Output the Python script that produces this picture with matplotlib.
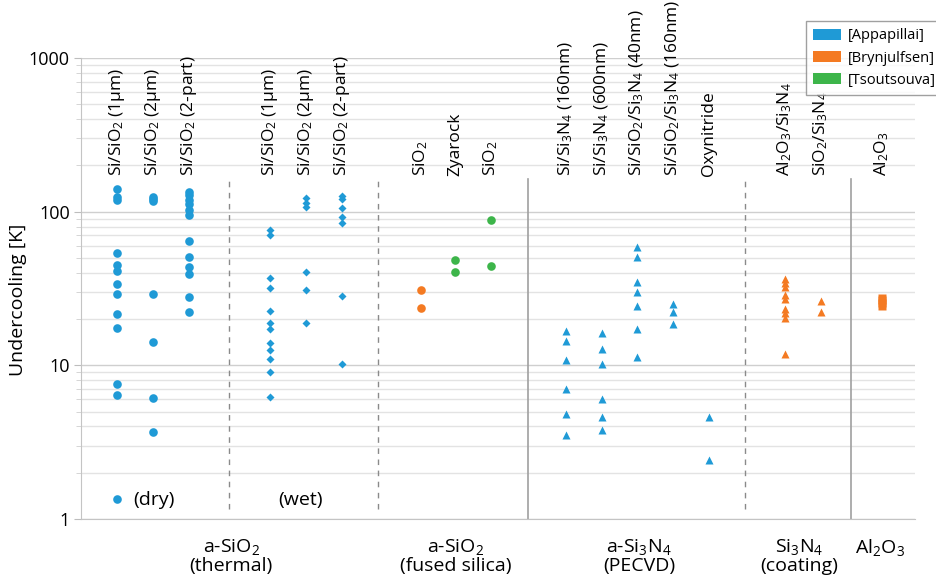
import matplotlib
matplotlib.use('Agg')
import matplotlib.pyplot as plt
import matplotlib.transforms as mtransforms
from matplotlib.patches import Patch

plt.rcParams['font.family'] = ['Open Sans', 'DejaVu Sans']
plt.rcParams['mathtext.default'] = 'regular'

# ---------------- data ----------------
col_labels = [
    "Si/SiO$_2$ (1µm)", "Si/SiO$_2$ (2µm)", "Si/SiO$_2$ (2-part)",
    "Si/SiO$_2$ (1µm)", "Si/SiO$_2$ (2µm)", "Si/SiO$_2$ (2-part)",
    "SiO$_2$", "Zyarock", "SiO$_2$",
    "Si/Si$_3$N$_4$ (160nm)", "Si/Si$_3$N$_4$ (600nm)",
    "Si/SiO$_2$/Si$_3$N$_4$ (40nm)", "Si/SiO$_2$/Si$_3$N$_4$ (160nm)", "Oxynitride",
    "Al$_2$O$_3$/Si$_3$N$_4$", "SiO$_2$/Si$_3$N$_4$",
    "Al$_2$O$_3$",
]
col_source = ["Appapillai"] * 6 + ["Brynjulfsen", "Tsoutsouva", "Tsoutsouva"] + \
             ["Appapillai"] * 5 + ["Brynjulfsen"] * 3

dry_1um = [141, 125, 119, 54, 45, 41, 34, 29, 21.5, 17.6, 7.6, 6.4, 1.34]
dry_2um = [125, 121, 118, 29, 14.1, 6.1, 3.7]
dry_2part = [134, 128, 119, 113, 103, 95, 64, 51, 43.5, 39.4, 27.8, 22.2]
wet_1um = [76, 71, 37, 32, 22.7, 18.8, 17.3, 13.9, 12.5, 11.0, 9.0, 6.2]
wet_2um = [122, 114, 107, 40.4, 30.7, 18.9]
wet_2part = [126, 120, 106, 92, 84.5, 28.2, 10.2]
fused_sio2_b = [30.7, 23.7]
fused_zyarock = [48.7, 40.6]
fused_sio2_t = [88, 44.3]
pecvd_160 = [16.7, 14.5, 10.8, 7.0, 4.8, 3.5]
pecvd_600 = [16.3, 12.7, 10.2, 6.0, 4.6, 3.8]
pecvd_40_stack = [59, 51, 34.6, 30.1, 24.4, 17.3, 11.4]
pecvd_160_stack = [24.9, 22.1, 18.7]
oxynitride = [4.6, 2.43]
coat_al2o3 = [36.6, 34.3, 32.3, 28.9, 27.1, 23.3, 22.0, 20.3, 11.9]
coat_sio2 = [26.4, 22.4]
al2o3 = [27.5, 26.5, 25.5, 24.5]

col_values = [dry_1um, dry_2um, dry_2part, wet_1um, wet_2um, wet_2part,
              fused_sio2_b, fused_zyarock, fused_sio2_t,
              pecvd_160, pecvd_600, pecvd_40_stack, pecvd_160_stack, oxynitride,
              coat_al2o3, coat_sio2, al2o3]

group_labels = ["a-SiO$_2$\n(thermal)", "a-SiO$_2$\n(fused silica)",
                "a-Si$_3$N$_4$\n(PECVD)", "Si$_3$N$_4$\n(coating)", "Al$_2$O$_3$"]
legend_names = ["[Appapillai]", "[Brynjulfsen]", "[Tsoutsouva]"]
y_ticks = [1, 10, 100, 1000]

# ---------------- layout / style ----------------
col_x = [0, 1, 2, 4.25, 5.25, 6.25, 8.44, 9.39, 10.39,
         12.47, 13.47, 14.44, 15.44, 16.44, 18.56, 19.56, 21.25]
col_marker = ['o'] * 3 + ['D'] * 3 + ['o'] * 3 + ['^'] * 5 + ['^'] * 2 + ['s']
col_msize = [6.2] * 3 + [4.2] * 3 + [6.2] * 3 + [6.2] * 5 + [6.2] * 2 + [5.6]
colors = {"Appapillai": "#1f9ad6", "Brynjulfsen": "#f47a22", "Tsoutsouva": "#3db54a"}
dashed_x = [3.11, 7.25, 17.44]
solid_x = [11.42, 20.39]
group_x = [3.17, 9.4, 14.5, 18.95, 21.2]

W, H = 936, 581
fig = plt.figure(figsize=(W / 100, H / 100), dpi=100)
ax = fig.add_axes([81 / W, 1 - 519 / H, (915 - 81) / W, (519 - 58) / H])
ax.set_yscale('log')
ax.set_ylim(1, 1000)
ax.set_xlim(-1.0, 22.17)

# grid
ax.yaxis.grid(True, which='major', color='#cfcfcf', lw=1.0)
ax.yaxis.grid(True, which='minor', color='#e3e3e3', lw=1.0)
ax.set_axisbelow(True)
ax.set_xticks([])
ax.set_yticks(y_ticks)
ax.set_yticklabels([str(t) for t in y_ticks])
ax.tick_params(axis='y', which='major', length=5, color='#bdbdbd', labelsize=13, pad=3)
ax.tick_params(axis='y', which='minor', length=3.5, color='#cfcfcf')
for s in ['top', 'right']:
    ax.spines[s].set_visible(False)
ax.spines['left'].set_color('#c4c4c4')
ax.spines['bottom'].set_color('#c4c4c4')
ax.set_ylabel("Undercooling [K]", fontsize=14)
ax.yaxis.set_label_coords(-54 / (915 - 81), 0.475)

# separators
for xv in dashed_x:
    ax.axvline(xv, ymin=0.022, ymax=0.738, color='#8a8a8a', lw=1.0, ls=(0, (4, 4)))
for xv in solid_x:
    ax.axvline(xv, ymin=0.0, ymax=0.738, color='#a0a0a0', lw=1.2)

# points
for x, vals, src, mk, ms in zip(col_x, col_values, col_source, col_marker, col_msize):
    ax.plot([x] * len(vals), vals, ls='none', marker=mk, ms=ms,
            color=colors[src], mec='none', clip_on=False, zorder=3)

# column labels (rotated)
trans = mtransforms.blended_transform_factory(ax.transData, ax.transAxes)
for x, lab in zip(col_x, col_labels):
    ax.text(x, 0.745, lab, rotation=90, ha='center', va='bottom', fontsize=12.5,
            transform=trans, clip_on=False)

# (dry) / (wet)
ax.text(0.45, 1.33, "(dry)", ha='left', va='center', fontsize=14)
ax.text(5.1, 1.33, "(wet)", ha='center', va='center', fontsize=14)

# group labels
for x, lab in zip(group_x, group_labels):
    ax.text(x, -0.04, lab, ha='center', va='top', fontsize=14,
            transform=trans, linespacing=1.0)

# legend
handles = [Patch(facecolor=colors[k], edgecolor='none') for k in colors]
leg = fig.legend(handles, legend_names, loc='upper left',
                 bbox_to_anchor=(806 / W, 1 - 21 / H), fontsize=10.5,
                 frameon=True, fancybox=False, edgecolor='#888888',
                 handlelength=1.9, handleheight=0.75, borderpad=0.5,
                 labelspacing=0.5, handletextpad=0.45, borderaxespad=0)
leg.get_frame().set_linewidth(1.0)

fig.savefig('out.png', dpi=100)
